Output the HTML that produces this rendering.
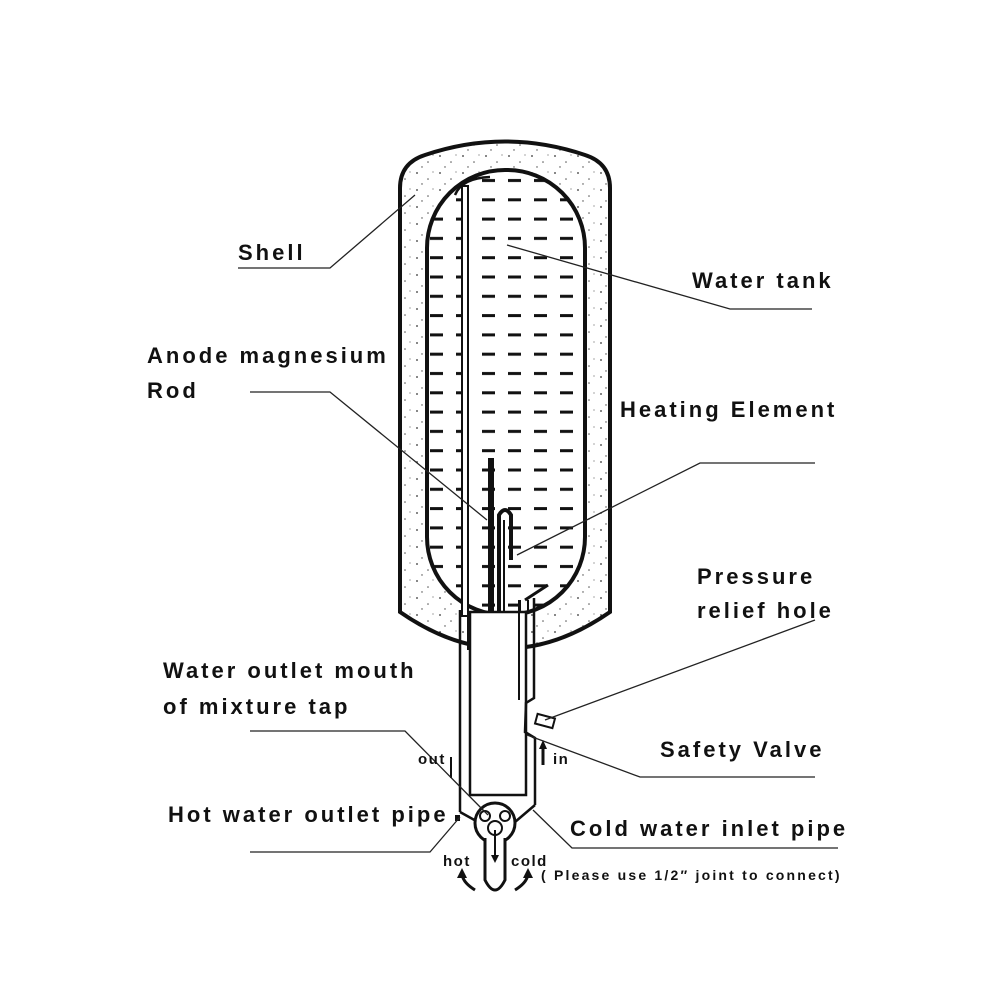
<!DOCTYPE html>
<html><head><meta charset="utf-8"><style>
body{margin:0;background:#fff}
svg{display:block}
text{font-family:"Liberation Sans",sans-serif;font-weight:bold;fill:#111}
</style></head><body>
<svg width="1000" height="1000" viewBox="0 0 1000 1000">
<defs>
<pattern id="dots" width="23" height="17" patternUnits="userSpaceOnUse">
<circle cx="3" cy="3" r="0.9" fill="#333"/><circle cx="14" cy="9" r="0.8" fill="#555"/><circle cx="8" cy="14" r="0.7" fill="#444"/><circle cx="19" cy="2" r="0.6" fill="#666"/>
</pattern>
<clipPath id="tank"><rect x="427" y="170" width="158" height="445" rx="78"/></clipPath>
<pattern id="dash" width="26" height="19.3" patternUnits="userSpaceOnUse" x="430" y="172">
<rect x="0" y="7" width="13" height="3" fill="#111"/>
</pattern>
</defs>
<!-- shell -->
<path d="M400,188 Q400,163 425,155 Q505,128 585,155 Q610,163 610,188 L610,612 Q505,685 400,612 Z" fill="url(#dots)" stroke="#111" stroke-width="4"/>
<rect x="427" y="170" width="158" height="445" rx="78" fill="#fff" stroke="#111" stroke-width="4"/>
<rect x="427" y="170" width="158" height="445" fill="url(#dash)" clip-path="url(#tank)"/>
<!-- rod left -->
<rect x="462" y="186" width="6" height="430" fill="#fff" stroke="#111" stroke-width="2"/>
<path d="M455,195 Q462,178 490,177" fill="none" stroke="#111" stroke-width="2.5"/>
<!-- anode -->
<rect x="488" y="458" width="6" height="158" fill="#111"/>
<path d="M499,615 L499,515 Q505,505 511,515 L511,560" fill="none" stroke="#111" stroke-width="4"/>
<path d="M504,615 L504,520" stroke="#111" stroke-width="2"/>
<path d="M525,600 L548,585" stroke="#111" stroke-width="3"/>
<!-- lower assembly -->
<rect x="470" y="612" width="56" height="183" fill="#fff" stroke="#111" stroke-width="2.5"/>
<line x1="460" y1="610" x2="460" y2="812" stroke="#111" stroke-width="2.5"/>
<line x1="468" y1="612" x2="468" y2="650" stroke="#111" stroke-width="2"/>
<path d="M520,600 L520,612 M528,600 L528,612" stroke="#111" stroke-width="2"/>
<path d="M534,598 L534,698 L526,703 L525,732 L535,738 L535,805" fill="none" stroke="#111" stroke-width="2.5"/>
<path d="M519,600 L519,700" stroke="#111" stroke-width="2"/>
<rect x="536" y="716" width="18" height="10" fill="#fff" stroke="#111" stroke-width="2" transform="rotate(15 545 721)"/>
<path d="M460,812 L478,822 M535,805 L515,822" stroke="#111" stroke-width="2.5"/>
<circle cx="495" cy="823" r="20" fill="#fff" stroke="#111" stroke-width="3"/>
<circle cx="485" cy="816" r="5" fill="none" stroke="#111" stroke-width="2"/>
<circle cx="505" cy="816" r="5" fill="none" stroke="#111" stroke-width="2"/>
<circle cx="495" cy="828" r="7" fill="none" stroke="#111" stroke-width="2"/>
<path d="M485,838 L485,880 Q495,900 505,880 L505,838" fill="#fff" stroke="#111" stroke-width="3"/>
<path d="M495,830 L495,860" stroke="#111" stroke-width="2"/><path d="M491,855 L495,863 L499,855Z" fill="#111"/>
<rect x="455" y="815" width="5" height="6" fill="#111"/>
<!-- arrows -->
<path d="M451,757 L451,778" stroke="#111" stroke-width="2"/>
<path d="M543,765 L543,745" stroke="#111" stroke-width="3"/><path d="M539,749 L543,740 L547,749Z" fill="#111"/>
<path d="M475,890 Q462,882 462,873" fill="none" stroke="#111" stroke-width="3"/><path d="M457,878 L462,868 L467,878Z" fill="#111"/>
<path d="M515,890 Q528,882 528,873" fill="none" stroke="#111" stroke-width="3"/><path d="M523,878 L528,868 L533,878Z" fill="#111"/>
<!-- leaders -->
<g stroke="#222" stroke-width="1.3" fill="none">
<path d="M238,268 L330,268 L415,195"/>
<path d="M812,309 L730,309 L507,245"/>
<path d="M250,392 L330,392 L487,520"/>
<path d="M815,463 L700,463 L517,555"/>
<path d="M815,620 L545,720"/>
<path d="M815,777 L640,777 L527,735"/>
<path d="M250,731 L405,731 L488,815"/>
<path d="M250,852 L430,852 L460,817"/>
<path d="M838,848 L572,848 L533,810"/>
</g>
<!-- labels -->
<g font-size="22" letter-spacing="3">
<text x="238" y="260">Shell</text>
<text x="692" y="288">Water tank</text>
<text x="147" y="363">Anode magnesium</text>
<text x="147" y="398">Rod</text>
<text x="620" y="417">Heating Element</text>
<text x="697" y="584">Pressure</text>
<text x="697" y="618">relief hole</text>
<text x="163" y="678">Water outlet mouth</text>
<text x="163" y="714">of mixture tap</text>
<text x="660" y="757">Safety Valve</text>
<text x="168" y="822">Hot water outlet pipe</text>
<text x="570" y="836">Cold water inlet pipe</text>
</g>
<g font-size="15" letter-spacing="1.5">
<text x="418" y="764">out</text>
<text x="553" y="764">in</text>
<text x="443" y="866">hot</text>
<text x="511" y="866">cold</text>
<text x="541" y="880" font-size="14" letter-spacing="2.2">( Please use 1/2″ joint to connect)</text>
</g>
</svg>
</body></html>
